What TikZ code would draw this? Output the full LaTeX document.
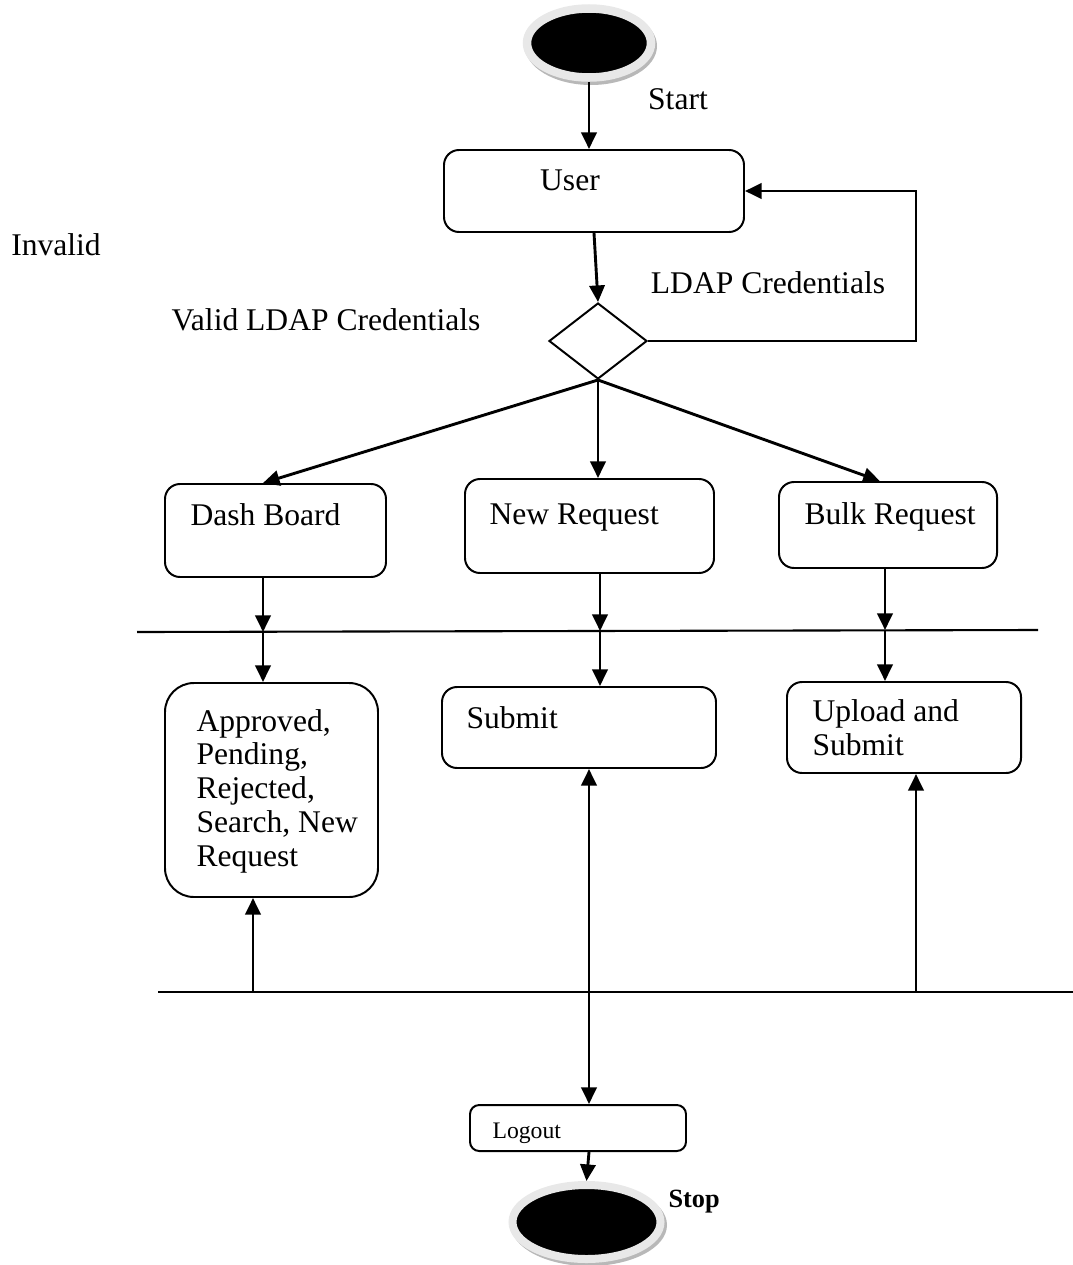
\documentclass[tikz,border=0pt]{standalone}
\usepackage{fontspec}
\setmainfont{Liberation Serif}
\usetikzlibrary{arrows.meta,shapes.geometric}
\newcommand{\pxu}{0.38pt}
\definecolor{rimgray}{gray}{0.91}
\definecolor{shadegray}{gray}{0.72}
\tikzset{
   actbox/.style={draw, rounded corners=5.7pt, line width=0.75pt, inner sep=0pt},
   lbl/.style={font=\fontsize{12}{12.8}\selectfont, inner sep=0pt},
   arr/.style={line width=1.1pt, -{Triangle[length=6.3pt,width=5.8pt]}},
   bar/.style={line width=0.8pt},
   endpoint/.style={ellipse, fill=black, draw=rimgray, inner sep=0pt}
}
\begin{document}
\begin{tikzpicture}
   [x=0.38pt, y=-0.38pt]
   \useasboundingbox (0,0) rectangle (1073,1265);

   \fill[shadegray] (591,46) ellipse [x radius=66, y radius=39];
   \node[endpoint, line width=8.5*\pxu, minimum width=124*\pxu, minimum height=69*\pxu] (start) at (589,43) {};
   \node[lbl, anchor=base] (starttxt) at (678,109) {Start};

   \node[actbox, minimum width=300*\pxu, minimum height=82*\pxu] (user) at (594,191) {};
   \node[lbl, anchor=base] (usertxt) at (570,190) {User};

   \node[diamond, draw, line width=0.75pt, inner sep=0pt, aspect=1.29,
         minimum width=98*\pxu, minimum height=76*\pxu] (dec) at (598,341) {};
   \node[lbl, anchor=base] (ldaptxt) at (768,293) {LDAP Credentials};
   \node[lbl, anchor=base] (validtxt) at (326,330) {Valid LDAP Credentials};
   \node[lbl, anchor=base] (invalidtxt) at (56,255) {Invalid};
   \coordinate (fb) at (916,191);

   \node[actbox, minimum width=221*\pxu, minimum height=93*\pxu] (dash) at (275.5,530.5) {};
   \node[actbox, minimum width=249*\pxu, minimum height=94*\pxu] (newreq) at (589.5,526) {};
   \node[actbox, minimum width=218*\pxu, minimum height=86*\pxu] (bulk) at (888,525) {};
   \node[lbl, anchor=base west] (dashtxt) at (190,525) {Dash Board};
   \node[lbl, anchor=base west] (newreqtxt) at (489,524) {New Request};
   \node[lbl, anchor=base west] (bulktxt) at (804,524) {Bulk Request};

   \coordinate (bar1a) at (137,632);
   \coordinate (bar1b) at (1038,630);
   \coordinate (d1) at (263,632);
   \coordinate (n1) at (600,631);
   \coordinate (b1) at (885,630);

   \node[actbox, rounded corners=11pt, minimum width=213*\pxu, minimum height=214*\pxu] (approved) at (271.5,790) {};
   \node[actbox, minimum width=274*\pxu, minimum height=81*\pxu] (submit) at (579,727.5) {};
   \node[actbox, minimum width=234*\pxu, minimum height=91*\pxu] (upload) at (904,727.5) {};
   \node[lbl, anchor=base west, align=left] (approvedtxt) at (196,866)
      {Approved,\\Pending,\\Rejected,\\Search, New\\Request};
   \node[lbl, anchor=base west] (submittxt) at (466,728) {Submit};
   \node[lbl, anchor=base west, align=left] (uploadtxt) at (812,755) {Upload and\\Submit};

   \coordinate (bar2a) at (158,992);
   \coordinate (bar2b) at (1073,992);
   \coordinate (a2) at (253,992);
   \coordinate (s2) at (589,992);
   \coordinate (u2) at (916,992);

   \node[actbox, rounded corners=3.5pt, minimum width=216*\pxu, minimum height=46*\pxu] (logout) at (578,1128) {};
   \node[anchor=base west, inner sep=0pt, font=\fontsize{9}{10}\selectfont] (logouttxt) at (492,1138) {Logout};

   \fill[shadegray] (589,1225) ellipse [x radius=78, y radius=41];
   \node[endpoint, line width=8*\pxu, minimum width=148*\pxu, minimum height=74*\pxu] (stop) at (586.5,1222) {};
   \node[anchor=base west, inner sep=0pt, font=\fontsize{10}{12}\selectfont\bfseries] (stoptxt) at (668,1207) {Stop};

   \draw[arr] (start.south) -- (start.south |- user.north);
   \draw[arr] (user.south) -- (dec.north);
   \draw[arr] (dec.east) -| (fb) -- (user.east);
   \draw[arr] (dec.south) -- (dash.north -| d1);
   \draw[arr] (dec.south) -- (dec.south |- newreq.north);
   \draw[arr] (dec.south) -- ([xshift=-2pt]bulk.north -| b1);

   \draw[bar] (bar1a) -- (bar1b);
   \draw[arr] (dash.south -| d1) -- (d1);
   \draw[arr] (newreq.south -| n1) -- (n1);
   \draw[arr] (bulk.south -| b1) -- (b1);
   \draw[arr] (d1) -- (approved.north -| d1);
   \draw[arr] (n1) -- (submit.north -| n1);
   \draw[arr] (b1) -- (upload.north -| b1);

   \draw[bar] (bar2a) -- (bar2b);
   \draw[arr] (a2) -- (approved.south -| a2);
   \draw[arr] ([yshift=-3pt]s2) -- (submit.south -| s2);
   \draw[arr] (u2) -- (upload.south -| u2);
   \draw[arr] (s2) -- (logout.north -| s2);
   \draw[arr] (logout.south -| s2) -- (stop.north);
\end{tikzpicture}
\end{document}
